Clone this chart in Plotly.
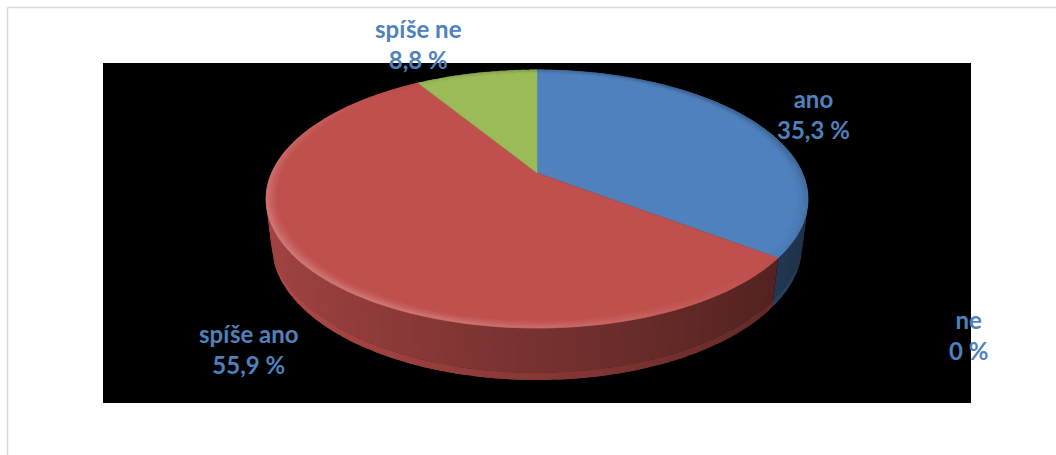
import numpy as np
import plotly.graph_objects as go

# Survey answers and their shares (%)
labels = ["ano", "ne", "spíše ano", "spíše ne"]
values = [35.3, 0.0, 55.9, 8.8]
colors = ["#4F81BD", "#8064A2", "#C0504D", "#9BBB59"]

# Label anchor points (page pixels) for each answer
label_x = [813, 968, 249, 418]
label_y = [114, 335, 349, 44]

W, H_PX = 1056, 455

# 3D pie geometry: perspective camera looking down at a flat cylinder
CX, CY = 537.0, 173.0        # projected pie centre
SCALE = 265.4                # radius scale
DIST = 4.39                  # camera distance (in radii)
ELEV = np.radians(27.8)      # camera elevation
THICK = 0.195                # cylinder height (in radii)


def proj(t, r, y):
    X = r * np.cos(t)
    Z = r * np.sin(t)
    v = y * np.cos(ELEV) + Z * np.sin(ELEV)
    w = DIST + Z * np.cos(ELEV) - y * np.sin(ELEV)
    return CX + SCALE * DIST * X / w, CY - SCALE * DIST * v / w


def hex_rgb(h):
    h = h.lstrip("#")
    return np.array([int(h[i:i + 2], 16) for i in (0, 2, 4)], dtype=float)


def shade(h, k):
    c = hex_rgb(h)
    if k >= 1:
        c = c + (255 - c) * (k - 1)
    else:
        c = c * k
    c = np.clip(np.round(c), 0, 255).astype(int)
    return "rgb(%d,%d,%d)" % tuple(c)


class Layer:
    """Collects filled polygons and emits one trace per colour."""

    def __init__(self):
        self.groups = {}

    def add(self, xs, ys, color):
        g = self.groups.setdefault(color, ([], []))
        g[0].extend(list(xs) + [xs[0], None])
        g[1].extend(list(ys) + [ys[0], None])

    def draw(self, fig, line_w=0.0):
        for color, (xs, ys) in self.groups.items():
            fig.add_trace(go.Scatter(
                x=xs, y=ys, mode="lines", fill="toself", fillcolor=color,
                line=dict(color=color, width=line_w),
                hoverinfo="skip", showlegend=False))


# slice angular ranges (degrees, clockwise from 12 o'clock)
total = float(sum(values))
starts, ends = [], []
cum = 0.0
for v in values:
    s = 90.0 - 360.0 * cum / total
    cum += v
    e = 90.0 - 360.0 * cum / total
    starts.append(s)
    ends.append(e)

fig = go.Figure()

# --- outer side wall (front part) ---
side_back, side_front = Layer(), Layer()
VIS_LO, VIS_HI = -200.0, 20.0
STEP = 1.0
for i, v in enumerate(values):
    if v <= 0:
        continue
    for k in (-1, 0, 1):
        a = ends[i] + 360 * k
        b = starts[i] + 360 * k
        lo, hi = max(a, VIS_LO), min(b, VIS_HI)
        if lo >= hi:
            continue
        n = max(1, int(np.ceil((hi - lo) / STEP)))
        edges = np.linspace(lo, hi, n + 1)
        for t0, t1 in zip(edges[:-1], edges[1:]):
            tm = np.radians((t0 + t1) / 2)
            # overlap neighbouring strips slightly to hide seams
            ts = np.radians(np.linspace(max(t0 - 0.6, lo), min(t1 + 0.6, hi), 3))
            f = 0.62 + 0.24 * np.cos(tm - np.pi)
            y_split = -0.86 * THICK
            layer = side_back if np.sin(tm) > -0.2 else side_front
            xt, yt = proj(ts, 1.0, 0.0)
            xb, yb = proj(ts[::-1], 1.0, y_split)
            layer.add(np.r_[xt, xb], np.r_[yt, yb], shade(colors[i], f))
            xt, yt = proj(ts, 1.0, y_split)
            xb, yb = proj(ts[::-1], 1.0, -THICK)
            layer.add(np.r_[xt, xb], np.r_[yt, yb], shade(colors[i], f + 0.08))
side_back.draw(fig)
side_front.draw(fig)

# --- top faces ---
top = Layer()
for i, v in enumerate(values):
    if v <= 0:
        continue
    n = max(4, int(abs(starts[i] - ends[i])))
    ts = np.radians(np.linspace(starts[i], ends[i], n))
    xa, ya = proj(ts, 1.0, 0.0)
    x0, y0 = proj(0.0, 0.0, 0.0)
    top.add(np.r_[x0, xa], np.r_[y0, ya], colors[i])
top.draw(fig, line_w=0.5)

# --- bevelled rim on the top faces ---
bevel = Layer()
ring_edges = np.linspace(0.955, 1.0, 7)
for i, v in enumerate(values):
    if v <= 0:
        continue
    n = max(1, int(np.ceil(abs(starts[i] - ends[i]) / 2.0)))
    edges = np.linspace(starts[i], ends[i], n + 1)
    for t0, t1 in zip(edges[:-1], edges[1:]):
        tm = np.radians((t0 + t1) / 2)
        ts = np.radians(np.linspace(t0, t1, 3))
        light = np.cos(tm - np.radians(225))
        for r_in, r_out in zip(ring_edges[:-1], ring_edges[1:]):
            u = ((r_in + r_out) / 2 - ring_edges[0]) / (1.0 - ring_edges[0])
            amp = 0.26 * u ** 1.5
            xo, yo = proj(ts, r_out, 0.0)
            xi, yi = proj(ts[::-1], r_in, 0.0)
            k = 1 + amp * light
            k = round(k * 50) / 50.0
            bevel.add(np.r_[xo, xi], np.r_[yo, yi], shade(colors[i], k))
bevel.draw(fig, line_w=0.6)


def fmt(v):
    if v == 0:
        return "0 %"
    return ("%.1f" % v).replace(".", ",") + " %"


annotations = []
for name, v, lx, ly in zip(labels, values, label_x, label_y):
    annotations.append(dict(
        x=lx, y=ly, xref="x", yref="y", showarrow=False,
        text="<b>%s<br>%s</b>" % (name, fmt(v)),
        font=dict(family="Lato", size=24, color="#4F81BD"),
        xanchor="center", yanchor="middle", align="center"))

shapes = [
    # chart frame
    dict(type="line", xref="x", yref="y", x0=7.5, y0=7.5, x1=W + 5, y1=7.5,
         line=dict(color="#D9D9D9", width=1.5), layer="below"),
    dict(type="line", xref="x", yref="y", x0=7.5, y0=7.5, x1=7.5, y1=H_PX + 5,
         line=dict(color="#D9D9D9", width=1.5), layer="below"),
    # plot area
    dict(type="rect", xref="x", yref="y", x0=103, y0=63, x1=971, y1=403,
         fillcolor="black", line=dict(width=0), layer="below"),
]

fig.update_layout(
    width=W, height=H_PX, autosize=False,
    margin=dict(l=0, r=0, t=0, b=0, pad=0),
    paper_bgcolor="white", plot_bgcolor="white",
    xaxis=dict(range=[0, W], visible=False, fixedrange=True),
    yaxis=dict(range=[H_PX, 0], visible=False, fixedrange=True),
    shapes=shapes, annotations=annotations, showlegend=False,
)

fig.write_html("out.html")
